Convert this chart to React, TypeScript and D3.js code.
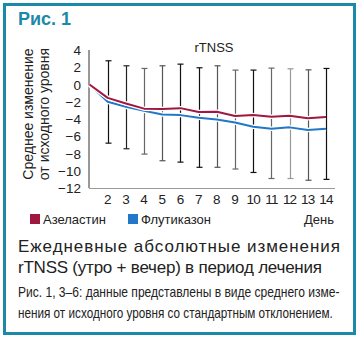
import React, { useLayoutEffect, useRef, useState } from "react";
import * as d3 from "d3";

const days = [1, 2, 3, 4, 5, 6, 7, 8, 9, 10, 11, 12, 13, 14];
const azelastine = [0, -1.55, -2.2, -2.8, -2.85, -2.74, -3.2, -3.16, -3.66, -3.55, -3.74, -3.62, -3.9, -3.78];
const fluticasone = [0, -2.0, -2.58, -3.04, -3.47, -3.55, -3.85, -4.05, -4.4, -4.9, -5.13, -4.97, -5.28, -5.13];
const errDays = [2, 3, 4, 5, 6, 7, 8, 9, 10, 11, 12, 13, 14];
const errTop = [2.75, 2.17, 1.86, 2.17, 2.36, 1.94, 2.17, 1.67, 1.67, 1.9, 1.82, 1.7, 1.86];
const errBottom = [-6.8, -7.45, -8.07, -8.84, -9.0, -9.6, -9.6, -9.8, -10.2, -10.9, -10.9, -11.1, -11.0];
const errColors = ["#111", "#222", "#666", "#555", "#111", "#111", "#555", "#666", "#111", "#666", "#999", "#555", "#111"];
const yTicks = [4, 2, 0, -2, -4, -6, -8, -10, -12];
const xTickLabels = ["2", "3", "4", "5", "6", "7", "8", "9", "10", "11", "12", "13", "14"];
const seriesNames = ["Азеластин", "Флутиказон"];
const seriesColors = ["#a0173f", "#2277c8"];
const noteLines = [
  "Рис. 1, 3–6: данные представлены в виде среднего изме-",
  "нения от исходного уровня со стандартным отклонением.",
];

const FONT = "'Liberation Sans', Arial, sans-serif";
const TEAL = "#1a8aa8";

function FitText({ x, y, width, children, ...rest }: any) {
  const ref = useRef<SVGTextElement>(null);
  const [s, setS] = useState(1);
  useLayoutEffect(() => {
    if (ref.current) {
      const len = ref.current.getComputedTextLength();
      if (len > 0) setS(width / len);
    }
  }, [width, children]);
  return (
    <text ref={ref} transform={`translate(${x},${y}) scale(${s},1)`} {...rest}>
      {children}
    </text>
  );
}

export default function App() {
  const x = d3.scaleLinear().domain([1, 14]).range([89.5, 326]);
  const y = d3.scaleLinear().domain([-12, 4]).range([188, 50]);
  const line = d3
    .line<number>()
    .x((_, i) => x(days[i]))
    .y((d) => y(d));
  const series = [fluticasone, azelastine];
  const sColors = [seriesColors[1], seriesColors[0]];

  return (
    <svg width={363} height={341} style={{ position: "absolute", left: 0, top: 0 }}>
      <rect x={0} y={0} width={363} height={341} fill="#fff" />
      <rect x={4.5} y={4.5} width={350} height={329} fill="none" stroke={TEAL} strokeWidth={3} />
      <text x={18} y={25} fontFamily={FONT} fontWeight="bold" fontSize={18} fill={TEAL}>
        Рис. 1
      </text>
      <text x={214} y={52} fontFamily={FONT} fontSize={13} textAnchor="middle" fill="#222">
        rTNSS
      </text>
      {/* y label */}
      <g fontFamily={FONT} fontSize={14} fill="#222" textAnchor="middle">
        <text transform="translate(33,114) rotate(-90)">Среднее изменение</text>
        <text transform="translate(49,114) rotate(-90)">от исходного уровня</text>
      </g>
      {/* y ticks */}
      <g fontFamily={FONT} fontSize={13.5} fill="#222" textAnchor="end">
        {yTicks.map((t) => (
          <text key={t} x={81} y={y(t) + 5}>
            {t < 0 ? "\u2212" + Math.abs(t) : t}
          </text>
        ))}
      </g>
      {/* axes */}
      <line x1={89} x2={89} y1={y(4)} y2={y(-12)} stroke="#333" strokeWidth={1} />
      <line x1={89} x2={335} y1={y(-12) + 0.5} y2={y(-12) + 0.5} stroke="#999" strokeWidth={1} />
      {/* x ticks */}
      <g fontFamily={FONT} fontSize={13.5} fill="#222" textAnchor="middle">
        {errDays.map((d, i) => (
          <text key={d} x={x(d)} y={204} letterSpacing={d >= 10 ? -0.8 : 0}>
            {xTickLabels[i]}
          </text>
        ))}
      </g>
      {/* error bars */}
      {errDays.map((d, i) => {
        const cx = Math.round(x(d)) + 0.5;
        return (
          <g key={d} stroke={errColors[i]} strokeWidth={1.2}>
            <line x1={cx} x2={cx} y1={y(errTop[i])} y2={y(errBottom[i])} />
            <line x1={cx - 3} x2={cx + 3} y1={y(errTop[i])} y2={y(errTop[i])} />
            <line x1={cx - 3} x2={cx + 3} y1={y(errBottom[i])} y2={y(errBottom[i])} />
          </g>
        );
      })}
      {/* lines */}
      {series.map((s, i) => (
        <g key={i}>
          <path d={line(s) || ""} fill="none" stroke="#fff" strokeWidth={4.5} strokeLinejoin="round" />
          <path d={line(s) || ""} fill="none" stroke={sColors[i]} strokeWidth={2} strokeLinejoin="round" />
        </g>
      ))}
      {/* legend */}
      <g fontFamily={FONT} fontSize={13} fill="#222">
        <rect x={30} y={214} width={10} height={10} fill={seriesColors[0]} />
        <text x={43} y={224}>{seriesNames[0]}</text>
        <rect x={128} y={214} width={10} height={10} fill={seriesColors[1]} />
        <text x={141} y={224}>{seriesNames[1]}</text>
        <text x={334} y={224} textAnchor="end">День</text>
      </g>
      {/* caption */}
      <g fontFamily={FONT} fontSize={17} fill="#222">
        <text x={18} y={252} textLength={322} lengthAdjust="spacing">
          Ежедневные абсолютные изменения
        </text>
        <text x={18} y={273} textLength={304} lengthAdjust="spacing">
          rTNSS (утро + вечер) в период лечения
        </text>
      </g>
      <g fontFamily={FONT} fontSize={14} fill="#222">
        <FitText x={18} y={297} width={322}>{noteLines[0]}</FitText>
        <FitText x={18} y={318} width={315}>{noteLines[1]}</FitText>
      </g>
    </svg>
  );
}
